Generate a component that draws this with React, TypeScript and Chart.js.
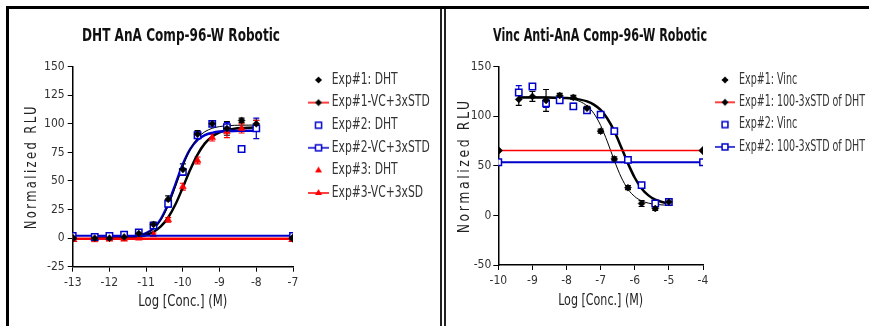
import React, { useEffect, useRef } from 'react';
import { Chart, registerables } from 'chart.js';

Chart.register(...registerables);

const FONT = "'Liberation Sans Narrow', 'Arial Narrow', 'DejaVu Sans Condensed', 'Liberation Sans', Arial, sans-serif";
const BLUE = '#0000cc';
const RED = '#ff0000';
const BLACK = '#000000';

// ---------------- Left panel: DHT ----------------
const leftTitle = 'DHT AnA Comp-96-W Robotic';
const leftXTicks = [-13, -12, -11, -10, -9, -8, -7];
const leftYTicks = [-25, 0, 25, 50, 75, 100, 125, 150];
const dhtConc = [-12.4, -12.0, -11.6, -11.2, -10.8, -10.4, -10.0, -9.6, -9.2, -8.8, -8.4, -8.0];
const exp1DHT = [0, 0, 1, 4, 12, 34, 60, 91, 100, 96, 103, 100];
const exp1DHTErr = [1, 1, 1, 1.5, 2, 3, 5, 3, 2, 6, 2, 3];
const exp2DHT = [1, 2, 3, 5, 11, 30, 58, 90, 100, 97, 78, 96];
const exp2DHTErr = [1, 1, 1, 1, 2, 3, 3, 3, 2, 4, 2, 9];
const exp3DHT = [-1.5, -1, -1, 0, 3, 16, 45, 68, 88, 93, 96, 99];
const exp3DHTErr = [1, 1, 1, 1, 1.5, 2, 3, 3, 3, 5, 4, 4];
const dhtVCX = [-13, -7];
const exp1VC = [0, 0];
const exp2VC = [2, 2];
const exp3VC = [-1, -1];
const dhtFitX = [-12.4, -12.2, -12.0, -11.8, -11.6, -11.4, -11.2, -11.0, -10.8, -10.6, -10.4, -10.2, -10.0, -9.8, -9.6, -9.4, -9.2, -9.0, -8.8, -8.6, -8.4, -8.2, -8.0];
const exp1DHTFit = [0.0, 0.05, 0.1, 0.2, 0.5, 1.0, 2.0, 4.1, 8.3, 15.8, 28.2, 44.9, 62.9, 77.6, 87.5, 93.1, 96.1, 97.6, 98.3, 98.7, 98.8, 98.9, 99.0];
const exp2DHTFit = [0.5, 0.5, 0.6, 0.7, 0.9, 1.4, 2.3, 4.4, 8.6, 16.7, 29.9, 47.3, 64.6, 77.8, 85.9, 90.1, 92.1, 93.2, 93.6, 93.8, 93.9, 94.0, 94.0];
const exp3DHTFit = [-0.5, -0.4, -0.4, -0.3, 0.0, 0.4, 1.2, 2.7, 5.4, 10.2, 18.0, 29.6, 44.4, 59.8, 73.1, 82.9, 89.0, 92.6, 94.7, 95.7, 96.3, 96.6, 96.8];
const leftLegend = ['Exp#1: DHT', 'Exp#1-VC+3xSTD', 'Exp#2: DHT', 'Exp#2-VC+3xSTD', 'Exp#3: DHT', 'Exp#3-VC+3xSD'];

// ---------------- Right panel: Vinc ----------------
const rightTitle = 'Vinc Anti-AnA Comp-96-W Robotic';
const rightXTicks = [-10, -9, -8, -7, -6, -5, -4];
const rightYTicks = [-50, 0, 50, 100, 150];
const vincConc = [-9.4, -9.0, -8.6, -8.2, -7.8, -7.4, -7.0, -6.6, -6.2, -5.8, -5.4, -5.0];
const exp1Vinc = [117, 120, 116, 121, 119, 108, 85, 57, 28, 12, 7, 13.5];
const exp1VincErr = [6, 5, 11, 2, 2, 2, 2, 2, 2, 3, 2, 3];
const exp2Vinc = [124, 130, 113, 116, 110, 106, 101.7, 85, 56, 30.5, 12, 13.5];
const exp2VincErr = [7, 3, 4, 3, 3, 2, 2, 2, 2, 2, 2, 3];
const vincRefX = [-10, -4];
const exp1Ref = [65.4, 65.4];
const exp2Ref = [53.6, 53.6];
const vincFitX = [-9.4, -9.2, -9.0, -8.8, -8.6, -8.4, -8.2, -8.0, -7.8, -7.6, -7.4, -7.2, -7.0, -6.8, -6.6, -6.4, -6.2, -6.0, -5.8, -5.6, -5.4, -5.2, -5.0];
const exp1VincFit = [119.5, 119.5, 119.5, 119.4, 119.4, 119.2, 118.9, 118.3, 117.1, 114.8, 110.5, 102.9, 90.8, 74.1, 55.4, 38.7, 26.5, 19.0, 14.7, 12.4, 11.2, 10.6, 10.3];
const exp2VincFit = [119.0, 119.0, 119.0, 119.0, 118.9, 118.8, 118.7, 118.4, 117.8, 116.8, 115.0, 111.8, 106.4, 97.5, 85.0, 69.1, 52.5, 38.0, 27.2, 20.2, 15.9, 13.5, 12.1];
const rightLegend = ['Exp#1: Vinc', 'Exp#1: 100-3xSTD of DHT', 'Exp#2: Vinc', 'Exp#2: 100-3xSTD of DHT'];

const xAxisTitle = 'Log [Conc.] (M)';
const yAxisTitle = 'Normalized RLU';

const pts = (xs: number[], ys: number[]) => xs.map((x, i) => ({ x, y: ys[i] }));

type Marker = 'diamond' | 'square' | 'triangle';

function drawMarker(ctx: CanvasRenderingContext2D, m: Marker, cx: number, cy: number, color: string) {
  ctx.save();
  ctx.beginPath();
  if (m === 'diamond') {
    const r = 3.5;
    ctx.moveTo(cx - r, cy); ctx.lineTo(cx, cy - r); ctx.lineTo(cx + r, cy); ctx.lineTo(cx, cy + r); ctx.closePath();
    ctx.fillStyle = color; ctx.fill();
  } else if (m === 'square') {
    const s = 3;
    ctx.rect(cx - s, cy - s, 2 * s, 2 * s);
    ctx.fillStyle = '#fff'; ctx.fill();
    ctx.lineWidth = 1.5; ctx.strokeStyle = color; ctx.stroke();
  } else {
    const r = 4;
    ctx.moveTo(cx, cy - r); ctx.lineTo(cx + r * 0.87, cy + r * 0.5); ctx.lineTo(cx - r * 0.87, cy + r * 0.5); ctx.closePath();
    ctx.fillStyle = color; ctx.fill();
  }
  ctx.restore();
}

// icon drawn pre-stretched by 1/sx so it looks right after the legend squeeze
function makeIcon(screenW: number, sx: number, line: string | null, marker: Marker, markerColor: string) {
  const w = Math.round(screenW / sx);
  const c = document.createElement('canvas');
  c.width = w; c.height = 12;
  const ctx = c.getContext('2d')!;
  if (line) {
    ctx.strokeStyle = line; ctx.lineWidth = 1.5;
    ctx.beginPath(); ctx.moveTo(0, 6); ctx.lineTo(w, 6); ctx.stroke();
  }
  ctx.save();
  ctx.translate(w / 2, 0); ctx.scale(1 / sx, 1); ctx.translate(-w / 2, 0);
  drawMarker(ctx, marker, w / 2, 6, markerColor);
  ctx.restore();
  return c;
}

const errorBarPlugin = {
  id: 'errorBars',
  beforeDatasetsDraw(chart: any) {
    const ctx = chart.ctx;
    const xs = chart.scales.x;
    const ys = chart.scales.y;
    chart.data.datasets.forEach((ds: any) => {
      if (!ds.errors) return;
      ctx.save();
      ctx.strokeStyle = ds.errorColor;
      ctx.lineWidth = 1.2;
      ds.data.forEach((p: any, j: number) => {
        const e = ds.errors[j];
        if (!e) return;
        const x = xs.getPixelForValue(p.x);
        const y1 = ys.getPixelForValue(p.y + e);
        const y2 = ys.getPixelForValue(p.y - e);
        ctx.beginPath();
        ctx.moveTo(x, y1); ctx.lineTo(x, y2);
        ctx.moveTo(x - 3, y1); ctx.lineTo(x + 3, y1);
        ctx.moveTo(x - 3, y2); ctx.lineTo(x + 3, y2);
        ctx.stroke();
      });
      ctx.restore();
    });
  },
};

const placePlugin = {
  id: 'place',
  beforeDraw(chart: any) {
    const o = chart.options.plugins.place;
    const ctx = chart.ctx;
    const tb = chart.titleBlock;
    if (tb) {
      tb.left = o.titleCx - o.titleW / 2; tb.right = o.titleCx + o.titleW / 2; tb.width = o.titleW;
    }
    const lg = chart.legend;
    if (lg) {
      lg.left = o.legendLeft; lg.top = o.legendTop; lg.right = o.legendLeft + 1000; lg.bottom = chart.height;
      lg.width = lg.right - lg.left; lg.height = lg.bottom - lg.top;
      if (!lg.__patched) {
        const od = lg.draw.bind(lg);
        lg.draw = function () {
          ctx.save();
          ctx.translate(o.legendLeft, 0); ctx.scale(o.legendSx, 1); ctx.translate(-o.legendLeft, 0);
          od();
          ctx.restore();
        };
        lg.__patched = true;
      }
    }
    const ys = chart.scales.y;
    if (ys && !ys.__patched) {
      const orig = ys.drawTitle.bind(ys);
      ys.drawTitle = function () {
        const c: any = ctx;
        c.save();
        c.font = `${o.yTitleSize}px ${FONT}`; c.letterSpacing = o.yLetterSpacing;
        const w = c.measureText(yAxisTitle).width;
        c.restore();
        const s = o.yTitleLen / w;
        const ty = (ys.top + ys.bottom) / 2;
        c.save();
        c.letterSpacing = o.yLetterSpacing;
        c.translate(0, ty); c.scale(1, s); c.translate(0, -ty);
        orig();
        c.restore();
        c.letterSpacing = '0px';
      };
      ys.__patched = true;
    }
    const xs = chart.scales.x;
    if (xs && !xs.__patched) {
      const orig = xs.drawTitle.bind(xs);
      xs.drawTitle = function () {
        const c: any = ctx;
        c.save();
        c.font = `${o.xTitleSize}px ${FONT}`;
        const w = c.measureText(xAxisTitle).width;
        c.restore();
        const s = o.xTitleLen / w;
        const cx = (xs.left + xs.right) / 2;
        c.save();
        c.translate(cx, 0); c.scale(s, 1); c.translate(-cx, 0);
        orig();
        c.restore();
      };
      xs.__patched = true;
    }
  },
};

function buildConfig(p: any): any {
  return {
    type: 'scatter',
    data: { datasets: p.datasets },
    options: {
      animation: false,
      responsive: false,
      events: [],
      layout: { padding: p.padding },
      scales: {
        x: {
          type: 'linear', min: p.xMin, max: p.xMax,
          afterBuildTicks: (s: any) => { s.ticks = p.xTicks.map((v: number) => ({ value: v })); },
          afterFit: (s: any) => { s.height = p.xHeight; },
          ticks: { color: '#333', font: { family: FONT, size: 12 }, padding: 4, maxRotation: 0, autoSkip: false, callback: (v: any) => String(v) },
          grid: { drawOnChartArea: false, drawTicks: true, tickLength: 5, color: BLACK, lineWidth: 1 },
          border: { display: true, color: BLACK, width: 1.5 },
          title: { display: true, text: xAxisTitle, color: '#222', font: { family: FONT, size: 16 }, padding: { top: 0, bottom: p.xTitlePadBottom } },
        },
        y: {
          type: 'linear', min: p.yMin, max: p.yMax,
          afterBuildTicks: (s: any) => { s.ticks = p.yTicks.map((v: number) => ({ value: v })); },
          afterFit: (s: any) => { s.width = p.yWidth; },
          ticks: { color: '#333', font: { family: FONT, size: 12 }, padding: p.yTickPad, autoSkip: false, callback: (v: any) => String(v) },
          grid: { drawOnChartArea: false, drawTicks: true, tickLength: 5, color: BLACK, lineWidth: 1 },
          border: { display: true, color: BLACK, width: 1.5 },
          title: { display: true, text: yAxisTitle, color: '#222', font: { family: FONT, size: 16 }, padding: { top: p.yTitlePadTop, bottom: 0 } },
        },
      },
      plugins: {
        tooltip: { enabled: false },
        title: {
          display: true, text: p.title, fullSize: false, color: '#111',
          font: { family: FONT, size: 18, weight: 'bold' },
          padding: { top: 15.2, bottom: 19.9 },
        },
        legend: {
          display: true, position: 'chartArea', align: 'start',
          labels: {
            usePointStyle: true,
            pointStyleWidth: p.legendBoxW,
            padding: p.legendPad,
            color: '#333',
            font: { family: FONT, size: 15 },
            generateLabels: () => p.legendTexts.map((t: string, i: number) => ({
              text: t, pointStyle: p.icons[i], fillStyle: 'rgba(0,0,0,0)', strokeStyle: 'rgba(0,0,0,0)',
              lineWidth: 0, hidden: false, datasetIndex: i, fontColor: '#333',
            })),
          },
        },
        place: {
          titleCx: p.titleCx, titleW: p.titleW,
          legendLeft: p.legendLeft, legendTop: p.legendTop, legendSx: p.legendSx,
          yTitleSize: 16, yLetterSpacing: '3px', yTitleLen: p.yTitleLen,
          xTitleSize: 16, xTitleLen: p.xTitleLen,
        },
      },
    },
    plugins: [errorBarPlugin, placePlugin],
  };
}

function leftDatasets() {
  return [
    { label: leftLegend[0], data: pts(dhtConc, exp1DHT), showLine: false, pointStyle: 'rectRot', pointRadius: 3.5, pointBackgroundColor: BLACK, pointBorderColor: BLACK, pointBorderWidth: 0.5, errors: exp1DHTErr, errorColor: BLACK },
    { label: leftLegend[1], data: pts(dhtVCX, exp1VC), showLine: true, borderColor: RED, borderWidth: 1.5, pointStyle: 'rectRot', pointRadius: 3.5, pointBackgroundColor: BLACK, pointBorderColor: BLACK },
    { label: leftLegend[2], data: pts(dhtConc, exp2DHT), showLine: false, pointStyle: 'rect', pointRadius: 4.5, pointBackgroundColor: '#fff', pointBorderColor: BLUE, pointBorderWidth: 1.5, errors: exp2DHTErr, errorColor: BLUE },
    { label: leftLegend[3], data: pts(dhtVCX, exp2VC), showLine: true, borderColor: BLUE, borderWidth: 2, pointStyle: 'rect', pointRadius: 4.5, pointBackgroundColor: '#fff', pointBorderColor: BLUE, pointBorderWidth: 1.5 },
    { label: leftLegend[4], data: pts(dhtConc, exp3DHT), showLine: false, pointStyle: 'triangle', pointRadius: 4, pointBackgroundColor: RED, pointBorderColor: RED, pointBorderWidth: 0.5, errors: exp3DHTErr, errorColor: RED },
    { label: leftLegend[5], data: pts(dhtVCX, exp3VC), showLine: true, borderColor: RED, borderWidth: 1.5, pointStyle: 'triangle', pointRadius: 4, pointBackgroundColor: RED, pointBorderColor: RED },
    { label: 'fit1', data: pts(dhtFitX, exp1DHTFit), showLine: true, borderColor: BLACK, borderWidth: 1, pointRadius: 0, cubicInterpolationMode: 'monotone' },
    { label: 'fit2', data: pts(dhtFitX, exp2DHTFit), showLine: true, borderColor: BLUE, borderWidth: 2.5, pointRadius: 0, cubicInterpolationMode: 'monotone' },
    { label: 'fit3', data: pts(dhtFitX, exp3DHTFit), showLine: true, borderColor: BLACK, borderWidth: 2.5, pointRadius: 0, cubicInterpolationMode: 'monotone' },
  ];
}

function rightDatasets() {
  return [
    { label: rightLegend[0], data: pts(vincConc, exp1Vinc), showLine: false, pointStyle: 'rectRot', pointRadius: 3.5, pointBackgroundColor: BLACK, pointBorderColor: BLACK, pointBorderWidth: 0.5, errors: exp1VincErr, errorColor: BLACK },
    { label: rightLegend[1], data: pts(vincRefX, exp1Ref), showLine: true, borderColor: RED, borderWidth: 1.5, pointStyle: 'rectRot', pointRadius: 3.5, pointBackgroundColor: BLACK, pointBorderColor: BLACK },
    { label: rightLegend[2], data: pts(vincConc, exp2Vinc), showLine: false, pointStyle: 'rect', pointRadius: 4.5, pointBackgroundColor: '#fff', pointBorderColor: BLUE, pointBorderWidth: 1.5, errors: exp2VincErr, errorColor: BLUE },
    { label: rightLegend[3], data: pts(vincRefX, exp2Ref), showLine: true, borderColor: BLUE, borderWidth: 2, pointStyle: 'rect', pointRadius: 4.5, pointBackgroundColor: '#fff', pointBorderColor: BLUE, pointBorderWidth: 1.5 },
    { label: 'fit1', data: pts(vincFitX, exp1VincFit), showLine: true, borderColor: BLACK, borderWidth: 1, pointRadius: 0, cubicInterpolationMode: 'monotone' },
    { label: 'fit2', data: pts(vincFitX, exp2VincFit), showLine: true, borderColor: BLACK, borderWidth: 2.5, pointRadius: 0, cubicInterpolationMode: 'monotone' },
  ];
}

// legend geometry: squeeze factor from a measured reference text, then box width and left edge
function legendGeometry(refText: string, refWidth: number, iconCx: number, textStart: number, pad: number) {
  const m = document.createElement('canvas').getContext('2d')!;
  m.font = `15px ${FONT}`;
  const sx = Math.min(1, refWidth / m.measureText(refText).width);
  const bw = 2 * ((textStart - iconCx) / sx - 7.5);
  const left = iconCx - sx * (pad + bw / 2);
  return { sx, bw, left };
}

export default function App() {
  const leftRef = useRef<HTMLCanvasElement>(null);
  const rightRef = useRef<HTMLCanvasElement>(null);

  useEffect(() => {
    document.body.style.margin = '0';
    const gl = legendGeometry('Exp#1-VC+3xSTD', 98, 318.5, 331.7, 7.6);
    const gr = legendGeometry('Exp#2: 100-3xSTD of DHT', 126, 278, 292, 7.3);
    const leftIcons = [
      makeIcon(21, gl.sx, null, 'diamond', BLACK),
      makeIcon(21, gl.sx, RED, 'diamond', BLACK),
      makeIcon(21, gl.sx, null, 'square', BLUE),
      makeIcon(21, gl.sx, BLUE, 'square', BLUE),
      makeIcon(21, gl.sx, null, 'triangle', RED),
      makeIcon(21, gl.sx, RED, 'triangle', RED),
    ];
    const rightIcons = [
      makeIcon(20, gr.sx, null, 'diamond', BLACK),
      makeIcon(20, gr.sx, RED, 'diamond', BLACK),
      makeIcon(20, gr.sx, null, 'square', BLUE),
      makeIcon(20, gr.sx, BLUE, 'square', BLUE),
    ];
    const left = new Chart(leftRef.current!, buildConfig({
      title: leftTitle, titleCx: 181, titleW: 198,
      xMin: -13, xMax: -7, xTicks: leftXTicks,
      yMin: -25, yMax: 150, yTicks: leftYTicks,
      padding: { left: 20, top: 10, right: 147, bottom: 10 },
      yWidth: 52.7, xHeight: 49.3,
      xTitlePadBottom: 4.3, yTitlePadTop: 2, yTickPad: 3,
      xTitleLen: 89, yTitleLen: 125,
      legendLeft: gl.left, legendTop: 64.9, legendSx: gl.sx,
      legendPad: 7.6, legendBoxW: gl.bw,
      legendTexts: leftLegend, icons: leftIcons,
      datasets: leftDatasets(),
    }));
    const right = new Chart(rightRef.current!, buildConfig({
      title: rightTitle, titleCx: 153, titleW: 214,
      xMin: -10, xMax: -4, xTicks: rightXTicks,
      yMin: -50, yMax: 150, yTicks: rightYTicks,
      padding: { left: 6, top: 10, right: 166, bottom: 10 },
      yWidth: 45.3, xHeight: 51,
      xTitlePadBottom: 5.3, yTitlePadTop: 2, yTickPad: 2,
      xTitleLen: 85, yTitleLen: 135,
      legendLeft: gr.left, legendTop: 65.2, legendSx: gr.sx,
      legendPad: 7.3, legendBoxW: gr.bw,
      legendTexts: rightLegend, icons: rightIcons,
      datasets: rightDatasets(),
    }));
    return () => { left.destroy(); right.destroy(); };
  }, []);

  return (
    <div style={{ position: 'relative', width: 869, height: 326, background: '#fff', overflow: 'hidden' }}>
      <canvas ref={leftRef} width={440} height={326} style={{ position: 'absolute', left: 0, top: 0, width: 440, height: 326 }} />
      <canvas ref={rightRef} width={422} height={326} style={{ position: 'absolute', left: 447, top: 0, width: 422, height: 326 }} />
      <div style={{ position: 'absolute', left: 6, top: 6, width: 863, height: 3, background: '#000' }} />
      <div style={{ position: 'absolute', left: 6, top: 6, width: 3, height: 320, background: '#000' }} />
      <div style={{ position: 'absolute', left: 440, top: 9, width: 2, height: 317, background: '#222' }} />
      <div style={{ position: 'absolute', left: 444, top: 9, width: 2, height: 317, background: '#222' }} />
    </div>
  );
}
